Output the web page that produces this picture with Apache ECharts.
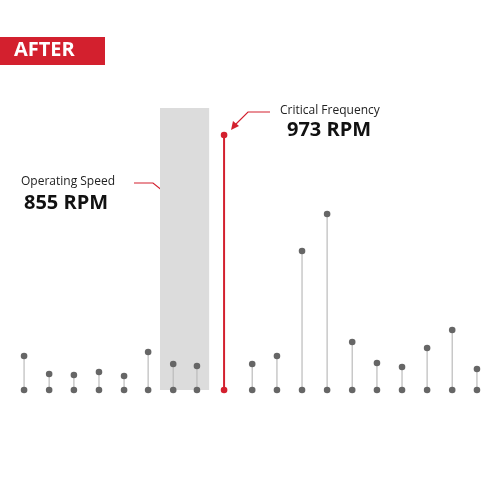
<!DOCTYPE html>
<html><head><meta charset="utf-8">
<script src="https://cdn.jsdelivr.net/npm/echarts@6/dist/echarts.min.js"></script>
<style>html,body{margin:0;background:#fff}#c{width:500px;height:500px}</style>
</head><body><div id="c"></div>
<script>
// frequency (RPM) and amplitude of each peak
var rpm = [383, 457, 530, 604, 678, 749, 823, 893, 973, 1056, 1129, 1203, 1277, 1351, 1424, 1498, 1572, 1646, 1719];
var amp = [34, 16, 15, 18, 14, 38, 26, 24, 255, 26, 34, 139, 176, 48, 27, 23, 42, 60, 21];
var criticalRpm = 973;
var operatingRpm = 855;
var bandRange = [784, 929];

var red = '#d3202e';
var chart = echarts.init(document.getElementById('c'));

chart.setOption({
    animation: false,
    grid: {left: 0, right: 0, top: 90, bottom: 110},
    xAxis: {type: 'value', min: 312, max: 1787, show: false},
    yAxis: {type: 'value', min: 0, max: 300, show: false},
    series: [{
        type: 'custom',
        data: rpm.map(function (r, i) { return [r, amp[i]]; }),
        renderItem: function (params, api) {
            var base = api.coord([api.value(0), 0]);
            var top = api.coord([api.value(0), api.value(1)]);
            var isCrit = api.value(0) === criticalRpm;
            var dot = isCrit ? red : '#666';
            return {type: 'group', children: [
                {type: 'line', shape: {x1: base[0], y1: base[1], x2: top[0], y2: top[1]},
                    style: {stroke: isCrit ? red : '#bbb', lineWidth: isCrit ? 2 : 1.2}},
                {type: 'circle', shape: {cx: base[0], cy: base[1], r: 3.3}, style: {fill: dot}},
                {type: 'circle', shape: {cx: top[0], cy: top[1], r: 3.3}, style: {fill: dot}}
            ]};
        },
        z: 3
    }, {
        type: 'line', data: [], silent: true,
        markArea: {silent: true, itemStyle: {color: '#dcdcdc'},
            data: [[{coord: [bandRange[0], -4]}, {coord: [bandRange[1], 282]}]]},
        markLine: {silent: true, symbol: 'none', label: {show: false},
            lineStyle: {color: red, type: [5, 4], width: 1},
            data: [[{coord: [operatingRpm, -4]}, {coord: [operatingRpm, 282]}]]},
        z: 1
    }],
    graphic: [
        {type: 'rect', shape: {x: 0, y: 37, width: 105, height: 28}, style: {fill: red}},
        {type: 'text', left: 14, top: 40, style: {text: 'AFTER', fill: '#fff', font: 'bold 20px "Open Sans", sans-serif'}},
        {type: 'text', left: 21, top: 176, style: {text: 'Operating Speed', fill: '#222', font: '12px "Open Sans", sans-serif'}},
        {type: 'text', left: 24, top: 193, style: {text: operatingRpm + ' RPM', fill: '#111', font: 'bold 20px "Open Sans", sans-serif'}},
        {type: 'polyline', shape: {points: [[134, 183], [153, 183], [178, 203]]}, style: {stroke: red, lineWidth: 1.2, fill: null}},
        {type: 'polygon', shape: {points: [[181, 206], [172, 203], [177, 197]]}, style: {fill: red}},
        {type: 'text', left: 280, top: 105, style: {text: 'Critical Frequency', fill: '#222', font: '12px "Open Sans", sans-serif'}},
        {type: 'text', left: 287, top: 120, style: {text: criticalRpm + ' RPM', fill: '#111', font: 'bold 20px "Open Sans", sans-serif'}},
        {type: 'polyline', shape: {points: [[270, 112], [248, 112], [234, 126]]}, style: {stroke: red, lineWidth: 1.2, fill: null}},
        {type: 'polygon', shape: {points: [[231, 130], [233, 121], [239, 126]]}, style: {fill: red}}
    ]
});
</script></body></html>
